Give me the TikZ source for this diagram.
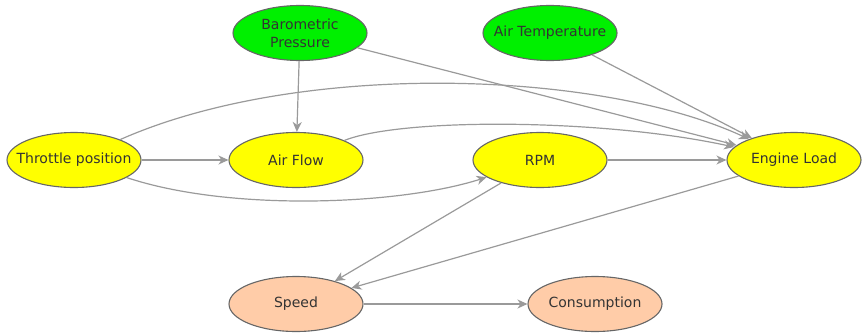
\documentclass[tikz,border=0pt]{standalone}
\usepackage{fontspec}
\setmainfont{DejaVu Sans}
\usetikzlibrary{arrows.meta,shapes.geometric}
\definecolor{edgegray}{HTML}{9A9A9A}
\definecolor{bordergray}{HTML}{666666}
\definecolor{envgreen}{HTML}{00F000}
\definecolor{engyellow}{HTML}{FFFF00}
\definecolor{outpeach}{HTML}{FFCCA8}
% labels take no width, so every ellipse keeps the same size
\newcommand{\vtext}[1]{\makebox[0pt]{#1}}
\begin{document}
\begin{tikzpicture}[x=1pt,y=-1pt,
  var/.style={ellipse, draw=bordergray, line width=1.1pt, minimum width=134pt, minimum height=55pt, inner sep=0pt, align=center, font=\fontsize{14}{18}\selectfont, text=black!80},
  envvar/.style={var, fill=envgreen},
  engvar/.style={var, fill=engyellow},
  outvar/.style={var, fill=outpeach},
  link/.style={draw=edgegray, line width=1.2pt, -{Stealth[length=10pt,width=9pt,inset=3pt]}}
]
\useasboundingbox (0,0) rectangle (867,333);

% nodes
\node[envvar] (baro) at (300,33) {\vtext{Barometric}\\\vtext{Pressure}};
\node[envvar] (temp) at (550,33) {\vtext{Air Temperature}};
\node[engvar] (thr)  at (74,160) {\vtext{Throttle position}};
\node[engvar] (flow) at (296,160) {\vtext{Air Flow}};
\node[engvar] (rpm)  at (540,160) {\vtext{RPM}};
\node[engvar] (load) at (794,160) {\vtext{Engine Load}};
\node[outvar] (spd)  at (296,304) {\vtext{Speed}};
\node[outvar] (cons) at (595,304) {\vtext{Consumption}};

% connectors
\draw[link] (baro) -- (flow);
\draw[link] (baro) -- (load);
\draw[link] (temp) -- (load);
\draw[link] (thr) .. controls (300,60) and (600,70) .. (load);
\draw[link] (thr) -- (flow);
\draw[link] (thr) .. controls (230,212) and (400,205) .. (rpm);
\draw[link] (flow) .. controls (400,118) and (600,118) .. (load);
\draw[link] (rpm) -- (load);
\draw[link] (rpm) -- (spd);
\draw[link] (load) -- (spd);
\draw[link] (spd) -- (cons);
\end{tikzpicture}
\end{document}
